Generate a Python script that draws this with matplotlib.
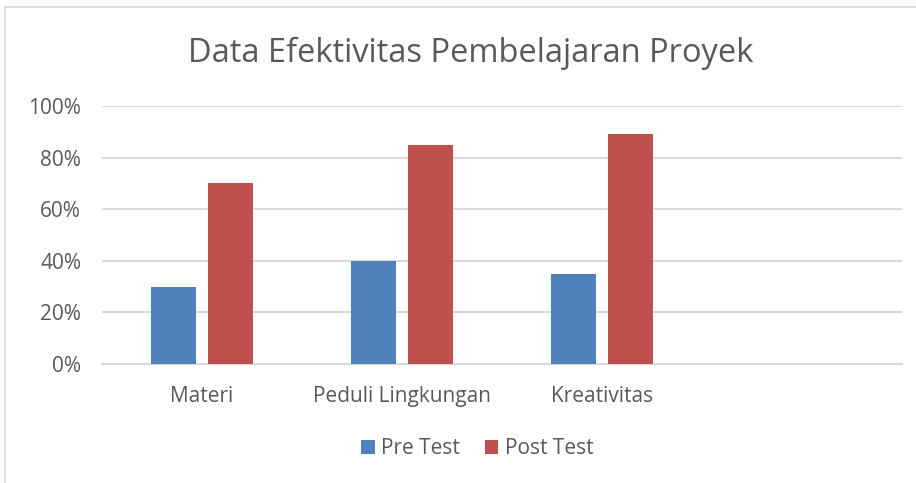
import numpy as np
import matplotlib.pyplot as plt
from matplotlib.lines import Line2D
from matplotlib.ticker import PercentFormatter

categories = ["Materi", "Peduli Lingkungan", "Kreativitas"]
pre_test = [30, 40, 35]
post_test = [70, 85, 89]
yticks = [0, 20, 40, 60, 80, 100]

blue = "#4f81bd"
red = "#c0504d"
grey_text = "#595959"
grid_col = "#d9d9d9"

plt.rcParams['font.family'] = ['Open Sans', 'DejaVu Sans']

def main():
    fig = plt.figure(figsize=(9.16, 4.83), dpi=100)
    # chart border (only top and left show)
    top = 1 - 7/483
    left = 5/916
    fig.lines.append(Line2D([left, 1], [top, top], transform=fig.transFigure,
                            color=grid_col, linewidth=1.2))
    fig.lines.append(Line2D([left, left], [0, top], transform=fig.transFigure,
                            color=grid_col, linewidth=1.2))

    ax = fig.add_axes([102/916, 1 - 364/483, 800/916, 258/483])
    x = np.arange(len(categories))
    w = 0.225
    off = 0.1425
    ax.bar(x - off, pre_test, w, color=blue, label="Pre Test", zorder=3)
    ax.bar(x + off, post_test, w, color=red, label="Post Test", zorder=3)

    ax.set_xlim(-0.5, 3.5)
    ax.set_ylim(0, 100)
    ax.set_yticks(yticks)
    ax.yaxis.set_major_formatter(PercentFormatter(decimals=0))
    ax.set_xticks(x)
    ax.set_xticklabels(categories)
    ax.grid(axis='y', color=grid_col, linewidth=1.5, zorder=0)
    for s in ['top', 'right', 'left']:
        ax.spines[s].set_visible(False)
    ax.spines['bottom'].set_color(grid_col)
    ax.spines['bottom'].set_linewidth(1.5)
    ax.tick_params(axis='both', length=0, labelsize=15, colors=grey_text)
    ax.tick_params(axis='y', pad=15)
    ax.tick_params(axis='x', pad=16)

    fig.text(0.514, 1 - 53/483, "Data Efektivitas Pembelajaran Proyek", ha='center', va='center',
             fontsize=23.5, color=grey_text)

    leg = fig.legend(loc='center', bbox_to_anchor=(0.521, 1 - 449/483), ncol=2, frameon=False,
                     fontsize=15, handlelength=0.65, handleheight=0.65, handletextpad=0.3,
                     columnspacing=1.2)
    for t in leg.get_texts():
        t.set_color(grey_text)

    fig.savefig("out.png", dpi=100)


if __name__ == '__main__':
    main()
